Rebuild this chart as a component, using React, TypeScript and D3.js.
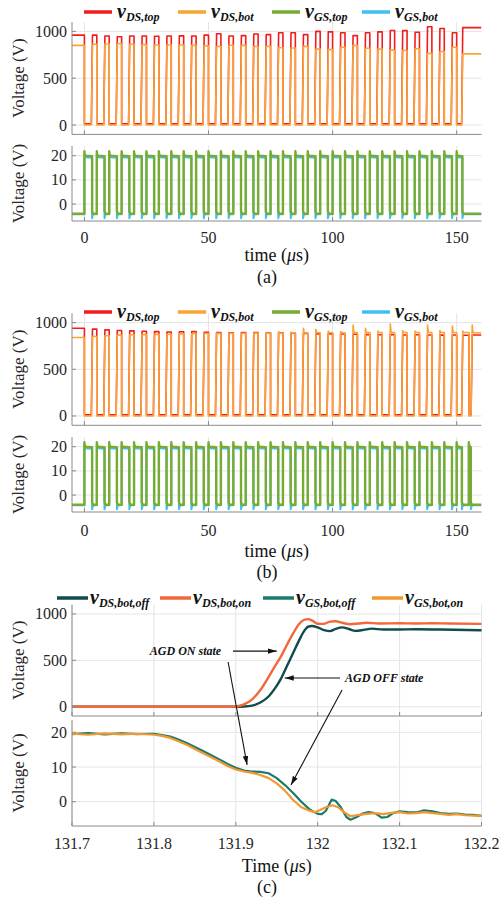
import React from "react";
import * as d3 from "d3";

type Pt = [number, number];

const FONT = "'Liberation Serif', 'Times New Roman', Times, 'DejaVu Serif', serif";
const C_RED = "#f31c1c";
const C_ORANGE = "#f9a437";
const C_GREEN = "#77ac30";
const C_CYAN = "#3fc0f0";
const C_OFF_DS = "#0f4c4d";
const C_ON_DS = "#f2683a";
const C_OFF_GS = "#1b7a6c";
const C_ON_GS = "#f3982f";
const AX = "#8a8a8a";
const GRID = "#e4e4e4";
const TXT = "#262626";

// ---------------- Panel (a) ----------------
const switchStartsA = [0, 5, 10, 15, 20, 25, 30, 35, 40, 45, 50, 55, 60, 65, 70, 75, 80, 85, 90, 95, 100, 105, 110, 115, 120, 125, 130, 135, 140, 145, 150];
const vdsTopPreA = 960;
const vdsTopHighA = [960, 950, 943, 950, 950, 948, 950, 952, 950, 960, 975, 950, 955, 972, 965, 985, 985, 965, 1000, 995, 985, 955, 985, 995, 1010, 1008, 990, 1050, 1030, 985, 1040];
const vdsBotPreA = 850;
const vdsBotHighA = [862, 865, 868, 862, 858, 855, 855, 855, 850, 845, 838, 852, 850, 838, 840, 825, 822, 840, 810, 805, 830, 850, 820, 810, 800, 795, 815, 765, 785, 830, 760];
const gateStartsA = [0, 5, 10, 15, 20, 25, 30, 35, 40, 45, 50, 55, 60, 65, 70, 75, 80, 85, 90, 95, 100, 105, 110, 115, 120, 125, 130, 135, 140, 145, 150];

// ---------------- Panel (b) ----------------
const switchStartsB = [0, 5, 10, 15, 20, 25, 30, 35, 40, 45, 50, 55, 60, 65, 70, 75, 80, 85, 90, 95, 100, 105, 110, 115, 120, 125, 130, 135, 140, 145, 150, 155];
const vdsTopPreB = 940;
const vdsTopHighB = [930, 922, 916, 912, 908, 904, 900, 902, 904, 896, 893, 892, 893, 895, 892, 890, 888, 885, 880, 880, 878, 875, 872, 870, 872, 868, 870, 868, 866, 868, 865, 868];
const vdsBotPreB = 840;
const vdsBotHighB = [852, 860, 866, 870, 872, 874, 876, 880, 882, 884, 885, 886, 886, 888, 888, 888, 890, 890, 892, 892, 892, 893, 893, 894, 894, 894, 894, 895, 895, 895, 895, 892];
const vdsBotPeakB = [852, 860, 866, 870, 872, 874, 876, 880, 882, 884, 885, 886, 886, 888, 888, 905, 900, 939, 929, 910, 905, 975, 939, 910, 986, 915, 910, 975, 915, 964, 910, 975];
const gateStartsB = [0, 5, 10, 15, 20, 25, 30, 35, 40, 45, 50, 55, 60, 65, 70, 75, 80, 85, 90, 95, 100, 105, 110, 115, 120, 125, 130, 135, 140, 145, 150, 154.9];

// ---------------- Panel (c) ----------------
const tDsOff = [131.7, 131.9, 131.91, 131.92, 131.93, 131.94, 131.948, 131.955, 131.962, 131.97, 131.977, 131.983, 131.988, 131.993, 132.0, 132.008, 132.015, 132.022, 132.03, 132.038, 132.046, 132.056, 132.066, 132.08, 132.1, 132.12, 132.15, 132.2];
const vDsOff = [0, 0, 2, 12, 45, 110, 200, 300, 430, 580, 710, 810, 860, 870, 855, 825, 815, 840, 855, 838, 818, 828, 842, 832, 833, 835, 832, 825];
const tDsOn = [131.7, 131.89, 131.9, 131.91, 131.92, 131.93, 131.94, 131.948, 131.955, 131.962, 131.97, 131.977, 131.983, 131.988, 131.994, 132.0, 132.007, 132.015, 132.022, 132.03, 132.04, 132.05, 132.06, 132.075, 132.1, 132.12, 132.14, 132.16, 132.2];
const vDsOn = [0, 0, 3, 25, 80, 180, 320, 440, 540, 660, 790, 890, 935, 945, 925, 895, 893, 918, 922, 905, 890, 898, 905, 897, 900, 898, 900, 897, 893];
const tGsOff = [131.7, 131.72, 131.74, 131.76, 131.78, 131.8, 131.81, 131.82, 131.83, 131.84, 131.85, 131.86, 131.87, 131.88, 131.89, 131.9, 131.91, 131.92, 131.93, 131.94, 131.95, 131.96, 131.97, 131.98, 131.99, 132.0, 132.005, 132.01, 132.017, 132.022, 132.028, 132.035, 132.04, 132.047, 132.055, 132.062, 132.07, 132.078, 132.085, 132.092, 132.1, 132.11, 132.12, 132.13, 132.14, 132.15, 132.16, 132.17, 132.18, 132.19, 132.2];
const vGsOff = [19.5, 19.8, 19.4, 19.7, 19.5, 19.6, 19.2, 18.8, 17.9, 16.9, 15.8, 14.6, 13.4, 12.2, 10.9, 9.8, 9.0, 8.7, 8.6, 8.2, 6.8, 4.8, 2.5, 0.0, -2.2, -3.5, -3.6, -2.6, 0.6, 0.2, -1.5, -4.4, -5.2, -4.5, -3.4, -3.0, -3.3, -4.6, -4.4, -3.3, -2.8, -3.0, -3.1, -2.5, -2.8, -3.3, -3.5, -3.4, -3.7, -3.8, -4.1];
const tGsOn = [131.7, 131.72, 131.74, 131.76, 131.78, 131.8, 131.81, 131.82, 131.83, 131.84, 131.85, 131.86, 131.87, 131.88, 131.89, 131.9, 131.91, 131.92, 131.93, 131.94, 131.95, 131.96, 131.97, 131.98, 131.99, 131.997, 132.003, 132.01, 132.018, 132.025, 132.032, 132.04, 132.05, 132.06, 132.07, 132.08, 132.09, 132.1, 132.11, 132.12, 132.13, 132.14, 132.15, 132.16, 132.17, 132.18, 132.19, 132.2];
const vGsOn = [19.6, 19.3, 19.7, 19.4, 19.6, 19.3, 19.0, 18.4, 17.4, 16.4, 15.2, 14.0, 12.8, 11.6, 10.3, 9.3, 8.7, 8.3, 7.7, 6.8, 5.3, 3.2, 0.5, -1.6, -2.6, -3.0, -2.4, -1.6, -1.0, -1.6, -3.0, -4.2, -3.8, -3.5, -3.3, -3.6, -3.2, -3.0, -3.4, -3.3, -3.0, -3.3, -3.5, -3.8, -3.6, -3.9, -4.0, -4.1];

// ticks & labels
const xTicksAB = [0, 50, 100, 150];
const xTicksC = [131.7, 131.8, 131.9, 132, 132.1, 132.2];
const yTicksDS = [0, 500, 1000];
const yTicksGS = [0, 10, 20];
const legendSubAB = ["DS,top", "DS,bot", "GS,top", "GS,bot"];
const legendSubC = ["DS,bot,off", "DS,bot,on", "GS,bot,off", "GS,bot,on"];

// annotations (data coordinates)
const annOnText: Pt = [131.795, 600];
const annOnArrowH: [Pt, Pt] = [[131.8965, 600], [131.95, 600]];
const annOnArrowDown: [Pt, Pt] = [[131.8906, 482], [131.9138, 10.6]];
const annOffText: Pt = [132.0333, 310];
const annOffArrowH: [Pt, Pt] = [[132.0273, 310], [131.9598, 310]];
const annOffArrowDown: [Pt, Pt] = [[132.0297, 180], [131.9674, 4.8]];

// ---------------- wave builders ----------------
function dsWave(starts: number[], highs: number[], pre: number, low: number, lowDurs: number[], rise: number, tMin: number, tMax: number, peaks?: number[]): Pt[] {
  const pts: Pt[] = [[tMin, pre]];
  starts.forEach((s, i) => {
    const prevHigh = i === 0 ? pre : highs[i - 1];
    pts.push([s, prevHigh], [s, low], [s + lowDurs[i], low]);
    const h = highs[i];
    const pk = peaks ? peaks[i] : h;
    const tEnd = i < starts.length - 1 ? starts[i + 1] : tMax;
    pts.push([s + lowDurs[i] + rise, pk]);
    if (pk !== h) pts.push([s + lowDurs[i] + rise + 0.35, h]);
    pts.push([tEnd, h]);
  });
  return pts;
}

function gsWave(starts: number[], highDurs: number[], hi: number, spike: number, lo: number, dip: number, tMin: number, tMax: number): Pt[] {
  const pts: Pt[] = [[tMin, lo]];
  starts.forEach((s, i) => {
    const hd = highDurs[i];
    pts.push([s, lo], [s, spike], [s + 0.12, hi + 0.7], [s + 0.45, hi], [s + hd, hi - 0.2], [s + hd, dip], [s + hd + 0.4, lo]);
  });
  pts.push([tMax, lo]);
  return pts;
}

const X0 = 72;
const X1 = 481.5;
const FS = { fontFamily: FONT };
const TICK_FS = 16;
const YLAB_FS = 17;
const XLAB_FS = 18;

function Grid({ xs, ys, xTicks, yTicks }: any) {
  const [x0, x1] = xs.range();
  const [yb, yt] = ys.range();
  return (
    <g>
      {yTicks.map((t: number) => (
        <line key={"gy" + t} x1={x0} x2={x1} y1={ys(t)} y2={ys(t)} stroke={GRID} strokeWidth={1} />
      ))}
      {xTicks.map((t: number) => (
        <line key={"gx" + t} x1={xs(t)} x2={xs(t)} y1={yt} y2={yb} stroke={GRID} strokeWidth={1} />
      ))}
    </g>
  );
}

function AxisLines({ xs, ys, xTicks, yTicks, yFmt, xLabels, xLabelY, yLabel, ylabelX }: any) {
  const [x0, x1] = xs.range();
  const [yb, yt] = ys.range();
  const tl = 4;
  return (
    <g style={FS} fill={TXT}>
      <line x1={x0} x2={x0} y1={yt} y2={yb} stroke={AX} strokeWidth={1} />
      <line x1={x0} x2={x1} y1={yb} y2={yb} stroke={AX} strokeWidth={1} />
      {yTicks.map((t: number) => (
        <g key={"ty" + t}>
          <line x1={x0} x2={x0 + tl} y1={ys(t)} y2={ys(t)} stroke={AX} />
          <text x={x0 - 5} y={ys(t)} textAnchor="end" dominantBaseline="central" fontSize={TICK_FS} style={FS}>
            {yFmt(t)}
          </text>
        </g>
      ))}
      {xTicks.map((t: number) => (
        <g key={"tx" + t}>
          <line x1={xs(t)} x2={xs(t)} y1={yb} y2={yb - tl} stroke={AX} />
          {xLabels ? (
            <text x={xs(t)} y={xLabelY} textAnchor="middle" dominantBaseline="central" fontSize={TICK_FS} style={FS}>
              {xLabels(t)}
            </text>
          ) : null}
        </g>
      ))}
      <text transform={`translate(${ylabelX},${(yb + yt) / 2}) rotate(-90)`} textAnchor="middle" dominantBaseline="central" fontSize={YLAB_FS} style={FS}>
        {yLabel}
      </text>
    </g>
  );
}

function Legend({ y, items }: any) {
  return (
    <g style={FS}>
      {items.map((it: any, i: number) => (
        <g key={i}>
          <line x1={it.x} x2={it.x + it.len} y1={y} y2={y} stroke={it.color} strokeWidth={3.5} />
          <text x={it.x + it.len + it.gap} y={y + 6} fill="#111" fontWeight="bold" fontStyle="italic" style={FS}>
            <tspan fontSize={20}>v</tspan>
            <tspan fontSize={12} dy={3}>{it.sub}</tspan>
          </text>
        </g>
      ))}
    </g>
  );
}

function Caption({ cx, xLabelY, capY, word, cap }: any) {
  return (
    <g style={FS} fill="#111">
      <text x={cx} y={xLabelY} textAnchor="middle" dominantBaseline="central" fontSize={XLAB_FS} style={FS}>
        {word} (<tspan fontStyle="italic">μ</tspan>s)
      </text>
      <text x={267} y={capY} textAnchor="middle" dominantBaseline="central" fontSize={XLAB_FS} style={FS}>
        {cap}
      </text>
    </g>
  );
}

function SwitchPanel({ id, yTopRange, yBotRange, legendY, tickY, xLabelY, capY, cap, starts, topPre, topHigh, botPre, botHigh, botPeak, gStarts, lowDurs, gDurs }: any) {
  const xs = d3.scaleLinear().domain([-5, 160]).range([X0, X1]);
  const ysT = d3.scaleLinear().domain([-100, 1100]).range(yTopRange);
  const ysB = d3.scaleLinear().domain([-7, 24]).range(yBotRange);
  const lineT = d3.line<Pt>().x((d) => xs(d[0])).y((d) => ysT(d[1]));
  const lineB = d3.line<Pt>().x((d) => xs(d[0])).y((d) => ysB(d[1]));
  const red = dsWave(starts, topHigh, topPre, 12, lowDurs, 0.45, -5, 160);
  const orange = dsWave(starts, botHigh, botPre, 0, lowDurs, 0.45, -5, 160, botPeak);
  const cyan = gsWave(gStarts, gDurs, 19.3, 20.6, -4.2, -5.9, -5, 160);
  const green = gsWave(gStarts, gDurs, 20.0, 21.8, -4.0, -3.0, -5, 160);
  const colors = [C_RED, C_ORANGE, C_GREEN, C_CYAN];
  const lx = [84, 178, 272, 362];
  return (
    <g>
      <defs>
        <clipPath id={id + "ct"}>
          <rect x={X0} y={yTopRange[1] - 2} width={X1 - X0} height={yTopRange[0] - yTopRange[1] + 2} />
        </clipPath>
        <clipPath id={id + "cb"}>
          <rect x={X0} y={yBotRange[1] - 2} width={X1 - X0} height={yBotRange[0] - yBotRange[1] + 2} />
        </clipPath>
      </defs>
      <Grid xs={xs} ys={ysT} xTicks={xTicksAB} yTicks={yTicksDS} />
      <Grid xs={xs} ys={ysB} xTicks={xTicksAB} yTicks={yTicksGS} />
      <g clipPath={`url(#${id}ct)`} fill="none" strokeLinejoin="round">
        <path d={lineT(red) || ""} stroke={C_RED} strokeWidth={1.6} />
        <path d={lineT(orange) || ""} stroke={C_ORANGE} strokeWidth={1.6} />
      </g>
      <g clipPath={`url(#${id}cb)`} fill="none" strokeLinejoin="round">
        <path d={lineB(cyan) || ""} stroke={C_CYAN} strokeWidth={2} />
        <path d={lineB(green) || ""} stroke={C_GREEN} strokeWidth={2.4} />
      </g>
      <AxisLines xs={xs} ys={ysT} xTicks={xTicksAB} yTicks={yTicksDS} yFmt={(t: number) => String(t)} yLabel="Voltage (V)" ylabelX={18} />
      <AxisLines xs={xs} ys={ysB} xTicks={xTicksAB} yTicks={yTicksGS} yFmt={(t: number) => String(t)} xLabels={(t: number) => String(t)} xLabelY={tickY} yLabel="Voltage (V)" ylabelX={18} />
      <Legend y={legendY} items={legendSubAB.map((s, i) => ({ x: lx[i], len: 28, gap: 5, color: colors[i], sub: s }))} />
      <Caption cx={(X0 + X1) / 2} xLabelY={xLabelY} capY={capY} word="time" cap={cap} />
    </g>
  );
}

function Arrow({ a, b }: any) {
  return <line x1={a[0]} y1={a[1]} x2={b[0]} y2={b[1]} stroke="#111" strokeWidth={1.1} markerEnd="url(#arrowHead)" />;
}

function PanelC() {
  const xs = d3.scaleLinear().domain([131.7, 132.2]).range([X0, X1]);
  const ysT = d3.scaleLinear().domain([-100, 1100]).range([716, 604.7]);
  const ysB = d3.scaleLinear().domain([-7, 23.5]).range([826, 720.2]);
  const zip = (t: number[], v: number[]) => t.map((x, i) => [x, v[i]] as Pt);
  const lineT = d3.line<Pt>().x((d) => xs(d[0])).y((d) => ysT(d[1])).curve(d3.curveMonotoneX);
  const lineB = d3.line<Pt>().x((d) => xs(d[0])).y((d) => ysB(d[1]));
  const colors = [C_OFF_DS, C_ON_DS, C_OFF_GS, C_ON_GS];
  const lx = [57, 160, 263, 372];
  const pT = (p: Pt) => [xs(p[0]), ysT(p[1])];
  const pB = (p: Pt) => [xs(p[0]), ysB(p[1])];
  const fmt = (t: number) => (Math.abs(t - 132) < 1e-9 ? "132" : d3.format(".1f")(t));
  return (
    <g>
      <defs>
        <marker id="arrowHead" viewBox="0 0 10 6" refX={10} refY={3} markerWidth={9} markerHeight={6} markerUnits="userSpaceOnUse" orient="auto">
          <path d="M0,0 L10,3 L0,6 z" fill="#111" />
        </marker>
      </defs>
      <Grid xs={xs} ys={ysT} xTicks={xTicksC} yTicks={yTicksDS} />
      <Grid xs={xs} ys={ysB} xTicks={xTicksC} yTicks={yTicksGS} />
      <g fill="none" strokeLinejoin="round">
        <path d={lineT(zip(tDsOff, vDsOff)) || ""} stroke={C_OFF_DS} strokeWidth={2.4} />
        <path d={lineT(zip(tDsOn, vDsOn)) || ""} stroke={C_ON_DS} strokeWidth={2.4} />
        <path d={lineB(zip(tGsOff, vGsOff)) || ""} stroke={C_OFF_GS} strokeWidth={2.2} />
        <path d={lineB(zip(tGsOn, vGsOn)) || ""} stroke={C_ON_GS} strokeWidth={2.2} />
      </g>
      <AxisLines xs={xs} ys={ysT} xTicks={xTicksC} yTicks={yTicksDS} yFmt={(t: number) => String(t)} yLabel="Voltage (V)" ylabelX={18} />
      <AxisLines xs={xs} ys={ysB} xTicks={xTicksC} yTicks={yTicksGS} yFmt={(t: number) => String(t)} xLabels={fmt} xLabelY={843} yLabel="Voltage (V)" ylabelX={18} />
      <Legend y={598} items={legendSubC.map((s, i) => ({ x: lx[i], len: 31, gap: 2, color: colors[i], sub: s }))} />
      <Caption cx={(X0 + X1) / 2} xLabelY={866} capY={887} word="Time" cap="(c)" />
      <g style={FS} fontWeight="bold" fontStyle="italic" fontSize={12} fill="#111">
        <text x={pT(annOnText)[0]} y={pT(annOnText)[1]} dominantBaseline="central" style={FS}>AGD ON state</text>
        <text x={pT(annOffText)[0]} y={pT(annOffText)[1]} dominantBaseline="central" style={FS}>AGD OFF state</text>
      </g>
      <Arrow a={pT(annOnArrowH[0])} b={pT(annOnArrowH[1])} />
      <Arrow a={pT(annOnArrowDown[0])} b={pB(annOnArrowDown[1])} />
      <Arrow a={pT(annOffArrowH[0])} b={pT(annOffArrowH[1])} />
      <Arrow a={pT(annOffArrowDown[0])} b={pB(annOffArrowDown[1])} />
    </g>
  );
}

export default function App() {
  const lowDursA = switchStartsA.map((_, i) => (i === switchStartsA.length - 1 ? 2.0 : 2.8));
  const gDursA = gateStartsA.map((_, i) => (i === gateStartsA.length - 1 ? 2.3 : 3.1));
  const lowDursB = switchStartsB.map((_, i) => (i === 31 ? 0.8 : i === 30 ? 2.0 : 2.8));
  const gDursB = gateStartsB.map((_, i) => (i === 31 ? 0.8 : i === 30 ? 2.1 : 3.1));
  return (
    <svg width={500} height={901} viewBox="0 0 500 901" style={{ position: "absolute", left: 0, top: 0, background: "#fff", fontFamily: FONT }}>
      <rect x={0} y={0} width={500} height={901} fill="#fff" />
      <SwitchPanel
        id="a"
        yTopRange={[134.4, 22]}
        yBotRange={[221, 146]}
        legendY={12}
        tickY={237}
        xLabelY={255}
        capY={277}
        cap="(a)"
        starts={switchStartsA}
        topPre={vdsTopPreA}
        topHigh={vdsTopHighA}
        botPre={vdsBotPreA}
        botHigh={vdsBotHighA}
        gStarts={gateStartsA}
        lowDurs={lowDursA}
        gDurs={gDursA}
      />
      <SwitchPanel
        id="b"
        yTopRange={[425.3, 313.3]}
        yBotRange={[512, 437]}
        legendY={312}
        tickY={530}
        xLabelY={551}
        capY={572}
        cap="(b)"
        starts={switchStartsB}
        topPre={vdsTopPreB}
        topHigh={vdsTopHighB}
        botPre={vdsBotPreB}
        botHigh={vdsBotHighB}
        botPeak={vdsBotPeakB}
        gStarts={gateStartsB}
        lowDurs={lowDursB}
        gDurs={gDursB}
      />
      <PanelC />
    </svg>
  );
}
